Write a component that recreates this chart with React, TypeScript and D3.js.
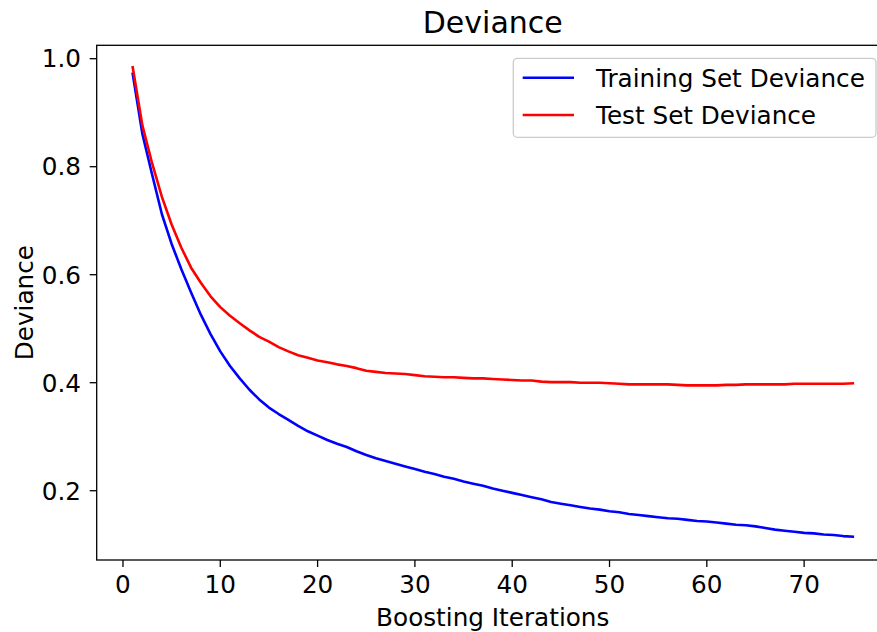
import React from "react";
import * as d3 from "d3";

const iterations: number[] = Array.from({ length: 75 }, (_, i) => i + 1);

const trainDeviance: number[] = [
  0.972, 0.860, 0.785, 0.712, 0.657, 0.610, 0.567, 0.526, 0.490, 0.458,
  0.431, 0.408, 0.387, 0.369, 0.354, 0.342, 0.331, 0.320, 0.310, 0.302,
  0.294, 0.287, 0.281, 0.273, 0.266, 0.260, 0.255, 0.250, 0.245, 0.240,
  0.235, 0.231, 0.226, 0.222, 0.217, 0.213, 0.209, 0.204, 0.200, 0.196,
  0.192, 0.188, 0.184, 0.179, 0.176, 0.173, 0.170, 0.167, 0.165, 0.162,
  0.160, 0.157, 0.155, 0.153, 0.151, 0.149, 0.148, 0.146, 0.144, 0.143,
  0.141, 0.139, 0.137, 0.136, 0.134, 0.131, 0.128, 0.126, 0.124, 0.122,
  0.121, 0.119, 0.118, 0.116, 0.115,
];

const testDeviance: number[] = [
  0.984, 0.876, 0.806, 0.744, 0.693, 0.650, 0.613, 0.585, 0.560, 0.540,
  0.524, 0.510, 0.497, 0.485, 0.476, 0.466, 0.458, 0.451, 0.446, 0.441,
  0.438, 0.434, 0.431, 0.427, 0.422, 0.420, 0.418, 0.417, 0.416, 0.414,
  0.412, 0.411, 0.410, 0.410, 0.409, 0.408, 0.408, 0.407, 0.406, 0.405,
  0.404, 0.404, 0.402, 0.401, 0.401, 0.401, 0.400, 0.400, 0.400, 0.399,
  0.398, 0.397, 0.397, 0.397, 0.397, 0.397, 0.396, 0.395, 0.395, 0.395,
  0.395, 0.396, 0.396, 0.397, 0.397, 0.397, 0.397, 0.397, 0.398, 0.398,
  0.398, 0.398, 0.398, 0.398, 0.399,
];

const xTicks: number[] = [0, 10, 20, 30, 40, 50, 60, 70];
const yTicks: number[] = [0.2, 0.4, 0.6, 0.8, 1.0];

const seriesNames: string[] = ["Training Set Deviance", "Test Set Deviance"];
const seriesColors: string[] = ["#0000ff", "#ff0000"];

const W = 877;
const H = 632;
const left = 96.7;
const right = 888.8;
const top = 45.3;
const bottom = 560;
const FONT = "DejaVu Sans, sans-serif";
const FS = 24.7;

export default function App() {
  const x = d3.scaleLinear().domain([-2.7, 78.7]).range([left, right]);
  const y = d3.scaleLinear().domain([0.0717, 1.0248]).range([bottom, top]);

  const line = d3
    .line<number>()
    .x((_, i) => x(iterations[i]))
    .y((d) => y(d));

  const series = [trainDeviance, testDeviance];

  return (
    <svg
      width={W}
      height={H}
      style={{ position: "absolute", left: 0, top: 0, background: "#fff" }}
      fontFamily={FONT}
    >
      <rect x={0} y={0} width={W} height={H} fill="#fff" />
      <defs>
        <clipPath id="plotclip">
          <rect x={left} y={top} width={right - left} height={bottom - top} />
        </clipPath>
      </defs>

      <g clipPath="url(#plotclip)">
        {series.map((s, k) => (
          <path
            key={k}
            d={line(s) || ""}
            fill="none"
            stroke={seriesColors[k]}
            strokeWidth={2.6}
            strokeLinejoin="round"
            strokeLinecap="square"
          />
        ))}
      </g>

      {/* spines */}
      <rect
        x={left}
        y={top}
        width={right - left}
        height={bottom - top}
        fill="none"
        stroke="#000"
        strokeWidth={1.3}
      />

      {/* x ticks */}
      {xTicks.map((t) => (
        <g key={"x" + t}>
          <line x1={x(t)} x2={x(t)} y1={bottom} y2={bottom + 7} stroke="#000" strokeWidth={1.3} />
          <text x={x(t)} y={593.3} textAnchor="middle" fontSize={FS} fill="#000">
            {t}
          </text>
        </g>
      ))}

      {/* y ticks */}
      {yTicks.map((t) => (
        <g key={"y" + t}>
          <line x1={left - 7} x2={left} y1={y(t)} y2={y(t)} stroke="#000" strokeWidth={1.3} />
          <text x={81} y={y(t) + 8.8} textAnchor="end" fontSize={FS} fill="#000">
            {t.toFixed(1)}
          </text>
        </g>
      ))}

      {/* title & labels */}
      <text x={(left + right) / 2} y={33.3} textAnchor="middle" fontSize={30} fill="#000">
        Deviance
      </text>
      <text x={(left + right) / 2} y={625.5} textAnchor="middle" fontSize={FS} fill="#000">
        Boosting Iterations
      </text>
      <text
        transform={`translate(33.3, ${(top + bottom) / 2}) rotate(-90)`}
        textAnchor="middle"
        fontSize={FS}
        fill="#000"
      >
        Deviance
      </text>

      {/* legend */}
      <rect
        x={513.3}
        y={58.3}
        width={876 - 513.3}
        height={137.3 - 58.3}
        rx={4}
        ry={4}
        fill="#fff"
        fillOpacity={0.8}
        stroke="#cccccc"
        strokeWidth={1.3}
      />
      {seriesNames.map((name, k) => {
        const cy = 77.7 + k * 37.3;
        return (
          <g key={name}>
            <line x1={522.7} x2={574} y1={cy} y2={cy} stroke={seriesColors[k]} strokeWidth={2.6} />
            <text x={596} y={cy + 9} fontSize={FS} fill="#000">
              {name}
            </text>
          </g>
        );
      })}
    </svg>
  );
}
